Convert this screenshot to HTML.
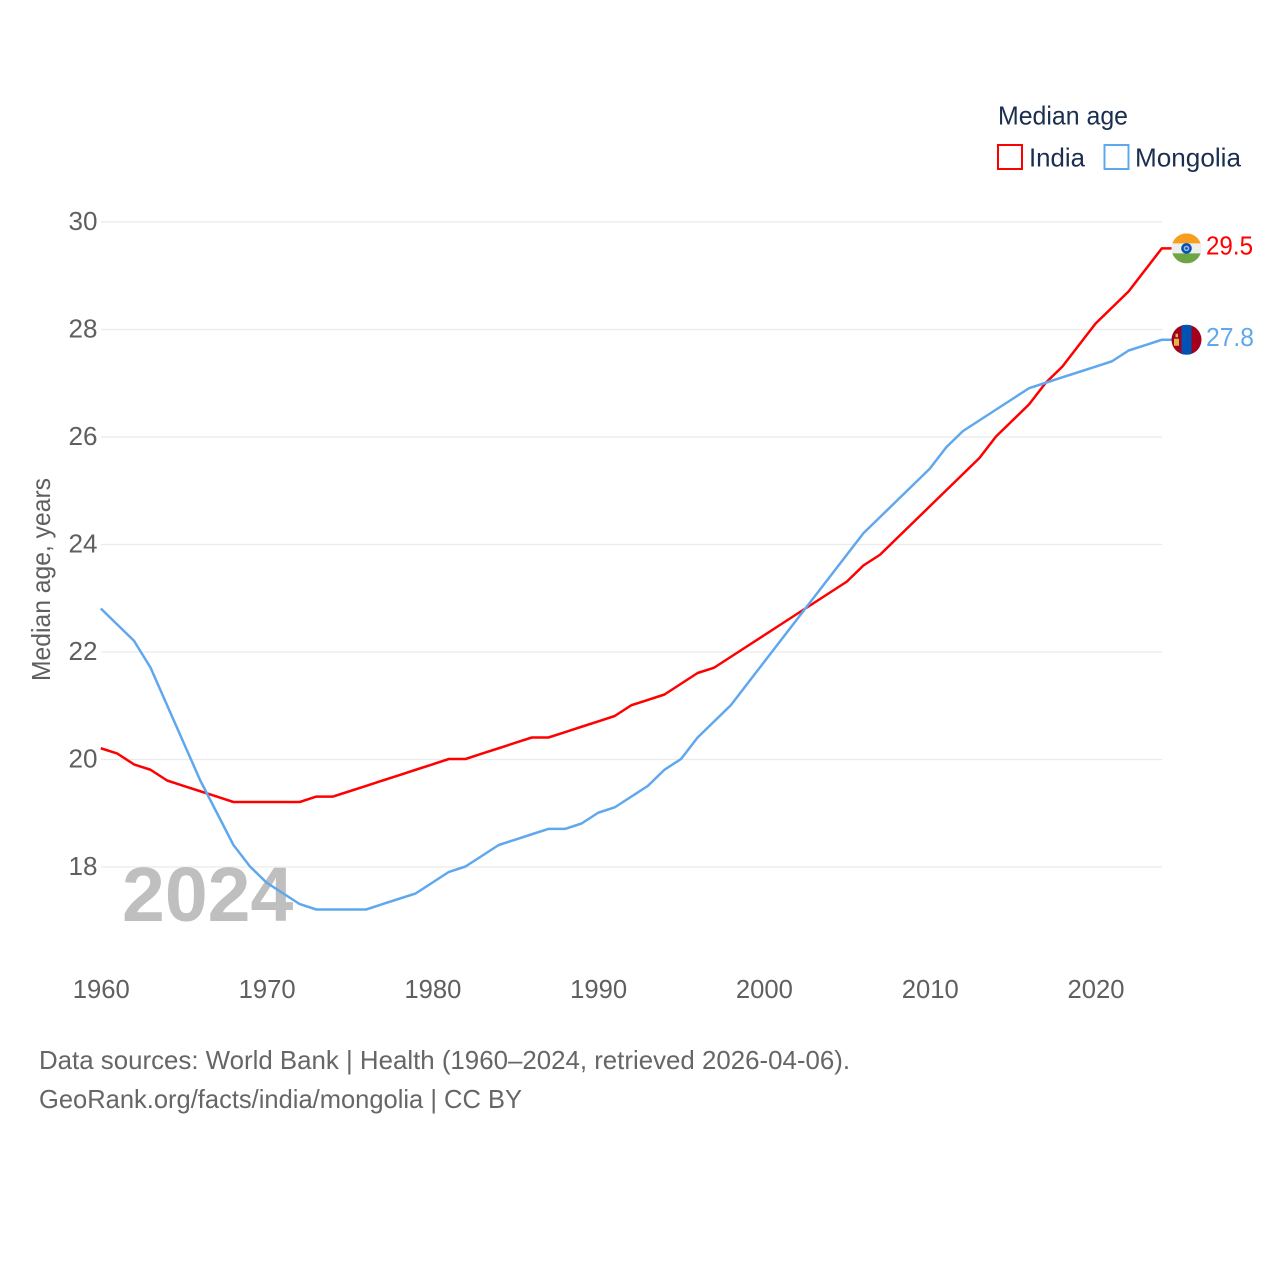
<!DOCTYPE html>
<html lang="en">
<head>
<meta charset="utf-8">
<title>Median age: India and Mongolia</title>
<style>
html,body{margin:0;padding:0;background:#fff;}
svg{display:block;}
text{font-family:"Liberation Sans",sans-serif;}
</style>
</head>
<body>
<svg id="chart" xmlns="http://www.w3.org/2000/svg" width="1280" height="1280" viewBox="0 0 1280 1280">
  <rect width="1280" height="1280" fill="#ffffff"/>
  <g id="grid"></g>
  <g id="yticks"></g>
  <g id="xticks"></g>
  <text transform="translate(50,681) rotate(-90)" font-size="26" fill="#5f5f5f" textLength="203" lengthAdjust="spacingAndGlyphs">Median age, years</text>
  <text x="122" y="921" font-size="77" font-weight="700" fill="#bfbfbf">2024</text>
  <polyline id="line-india" fill="none" stroke="#ff0000" stroke-width="2.5" stroke-linejoin="round"/>
  <polyline id="line-mongolia" fill="none" stroke="#5fa8ee" stroke-width="2.5" stroke-linejoin="round"/>
  <defs>
    <clipPath id="flag-clip"><circle cx="0" cy="0" r="15"/></clipPath>
  </defs>
  <g id="flag-india">
    <g clip-path="url(#flag-clip)">
      <rect x="-15" y="-15" width="30" height="30" fill="#eeeeee"/>
      <rect x="-15" y="-15" width="30" height="10" fill="#f79e1f"/>
      <rect x="-15" y="5" width="30" height="10" fill="#6da544"/>
      <circle cx="0" cy="0" r="5.3" fill="#0052b4"/>
      <circle cx="0" cy="0" r="2.8" fill="#9db8de"/>
      <circle cx="0" cy="0" r="1.3" fill="#0052b4"/>
    </g>
  </g>
  <g id="flag-mongolia">
    <g clip-path="url(#flag-clip)">
      <rect x="-15" y="-15" width="30" height="30" fill="#a2001d"/>
      <rect x="-5" y="-15" width="10" height="30" fill="#0052b4"/>
      <rect x="-12.500" y="-1" width="5" height="7" fill="#e0b84a"/>
      <rect x="-11" y="-6" width="2.500" height="3.500" fill="#e0b84a"/>
    </g>
  </g>
  <text id="value-india" x="1206" font-size="26" fill="#ff0000" textLength="47" lengthAdjust="spacingAndGlyphs"></text>
  <text id="value-mongolia" x="1206" font-size="26" fill="#5fa8ee" textLength="48" lengthAdjust="spacingAndGlyphs"></text>
  <g>
    <text x="998" y="124.500" font-size="26" fill="#1a2e4f" textLength="130" lengthAdjust="spacingAndGlyphs">Median age</text>
    <rect x="998" y="145" width="24" height="24" fill="#ffffff" stroke="#ff0000" stroke-width="2"/>
    <text x="1029" y="166.500" font-size="26" fill="#1a2e4f" textLength="56" lengthAdjust="spacingAndGlyphs">India</text>
    <rect x="1104.500" y="145" width="24" height="24" fill="#ffffff" stroke="#5fa8ee" stroke-width="2"/>
    <text x="1135" y="166.500" font-size="26" fill="#1a2e4f" textLength="106" lengthAdjust="spacingAndGlyphs">Mongolia</text>
  </g>
  <text x="39" y="1069" font-size="26" fill="#666666" textLength="811" lengthAdjust="spacingAndGlyphs">Data sources: World Bank | Health (1960–2024, retrieved 2026-04-06).</text>
  <text x="39" y="1108" font-size="26" fill="#666666" textLength="483" lengthAdjust="spacingAndGlyphs">GeoRank.org/facts/india/mongolia | CC BY</text>
</svg>
<script>
const startYear = 1960;
const yTickValues = [18, 20, 22, 24, 26, 28, 30];
const xTickValues = [1960, 1970, 1980, 1990, 2000, 2010, 2020];
const indiaValues = [20.2,20.1,19.9,19.8,19.6,19.5,19.4,19.3,19.2,19.2,19.2,19.2,19.2,19.3,19.3,19.4,19.5,19.6,19.7,19.8,19.9,20.0,20.0,20.1,20.2,20.3,20.4,20.4,20.5,20.6,20.7,20.8,21.0,21.1,21.2,21.4,21.6,21.7,21.9,22.1,22.3,22.5,22.7,22.9,23.1,23.3,23.6,23.8,24.1,24.4,24.7,25.0,25.3,25.6,26.0,26.3,26.6,27.0,27.3,27.7,28.1,28.4,28.7,29.1,29.5];
const mongoliaValues = [22.8,22.5,22.2,21.7,21.0,20.3,19.6,19.0,18.4,18.0,17.7,17.5,17.3,17.2,17.2,17.2,17.2,17.3,17.4,17.5,17.7,17.9,18.0,18.2,18.4,18.5,18.6,18.7,18.7,18.8,19.0,19.1,19.3,19.5,19.8,20.0,20.4,20.7,21.0,21.4,21.8,22.2,22.6,23.0,23.4,23.8,24.2,24.5,24.8,25.1,25.4,25.8,26.1,26.3,26.5,26.7,26.9,27.0,27.1,27.2,27.3,27.4,27.6,27.7,27.8];

const NS = 'http://www.w3.org/2000/svg';
function xScale(year) { return 100.8 + (year - 1960) * (1161.8 - 100.8) / 64; }
function yScale(v) { return 222 + (30 - v) * (867 - 222) / 12; }

const gridGroup = document.getElementById('grid');
const yGroup = document.getElementById('yticks');
const xGroup = document.getElementById('xticks');

yTickValues.forEach(function (v) {
  const line = document.createElementNS(NS, 'line');
  
  
  line.setAttribute('x1', 101);
  line.setAttribute('x2', 1162);
  line.setAttribute('y1', yScale(v));
  line.setAttribute('y2', yScale(v));
  line.setAttribute('stroke', '#ebebeb');
  line.setAttribute('stroke-width', '1.3');
  gridGroup.appendChild(line);

  const label = document.createElementNS(NS, 'text');
  
  
  label.setAttribute('x', 68.5);
  label.setAttribute('y', yScale(v) + 8);
  label.setAttribute('font-size', '26');
  label.setAttribute('fill', '#5f5f5f');
  label.setAttribute('textLength', '29');
  label.setAttribute('lengthAdjust', 'spacingAndGlyphs');
  label.textContent = String(v);
  yGroup.appendChild(label);
});

xTickValues.forEach(function (year) {
  const label = document.createElementNS(NS, 'text');
  
  
  label.setAttribute('x', xScale(year) - 28);
  label.setAttribute('y', 998);
  label.setAttribute('font-size', '26');
  label.setAttribute('fill', '#5f5f5f');
  label.setAttribute('textLength', '57');
  label.setAttribute('lengthAdjust', 'spacingAndGlyphs');
  label.textContent = String(year);
  xGroup.appendChild(label);
});

function drawSeries(lineId, flagId, valueId, values) {
  const pts = values.map(function (v, i) {
    return xScale(startYear + i).toFixed(2) + ',' + (yScale(v) - 0.5).toFixed(2);
  });
  const last = values[values.length - 1];
  const lastX = xScale(startYear + values.length - 1);
  const lastY = yScale(last) - 0.5;
  pts.push((lastX + 10).toFixed(2) + ',' + lastY.toFixed(2));
  document.getElementById(lineId).setAttribute('points', pts.join(' '));
  document.getElementById(flagId).setAttribute('transform', 'translate(1186.5,' + lastY.toFixed(2) + ')');
  const label = document.getElementById(valueId);
  label.setAttribute('y', (lastY + 6).toFixed(2));
  label.textContent = last.toFixed(1);
}
drawSeries('line-india', 'flag-india', 'value-india', indiaValues);
drawSeries('line-mongolia', 'flag-mongolia', 'value-mongolia', mongoliaValues);
</script>
</body>
</html>
